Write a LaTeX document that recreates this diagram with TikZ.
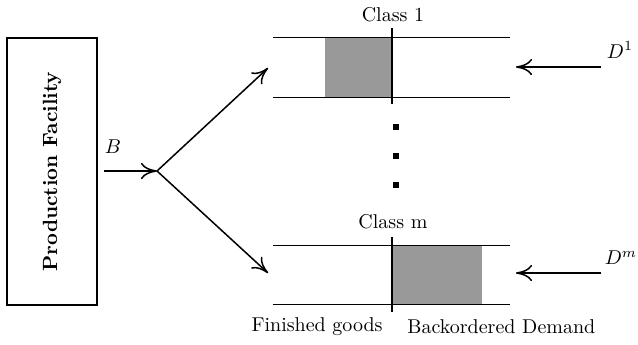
\documentclass[tikz,border=0pt]{standalone}
\usetikzlibrary{arrows.meta}
\begin{document}
\begin{tikzpicture}[x=0.5pt,y=-0.5pt,
  flow/.style={line width=0.75pt,-{To[length=8pt,width=8pt]}},
  rail/.style={line width=0.5pt},
  divider/.style={line width=1pt},
  stock/.style={fill=black!40,draw=none},
  dotmark/.style={fill=black,draw=none,minimum size=3pt,inner sep=0pt,rectangle},
  lbl/.style={inner sep=1pt,font=\fontsize{10}{12}\selectfont}]
\useasboundingbox (0,0) rectangle (638,344);

% production facility
\node[draw,line width=0.6pt,minimum width=45pt,minimum height=133.5pt,inner sep=0pt] (pf) at (52,171.5) {};
\node[rotate=90,font=\bfseries\fontsize{10.3}{12}\selectfont] (pft) at (pf.center) {Production Facility};

% split point
\coordinate (bin) at (104,171);
\coordinate (split) at (157,171);
\coordinate (t1) at (268,68);
\coordinate (tm) at (268,273);
\draw[flow] (bin) -- (split);
\node[lbl] (blab) at (113,147) {$B$};
\draw[flow] (split) -- (t1);
\draw[flow] (split) -- (tm);

% class 1 queue
\fill[stock] (325,37) rectangle (392,97);
\draw[rail] (273,37) -- (510,37);
\draw[rail] (273,97) -- (510,97);
\draw[divider] (392,28) -- (392,104);
\node[lbl] (c1) at (393,15) {Class 1};
\coordinate (d1s) at (601,67);
\coordinate (d1e) at (516,67);
\draw[flow] (d1s) -- (d1e);
\node[lbl] (d1) at (620,50) {$D^1$};

% dots between classes
\node[dotmark] (dA) at (396,127) {};
\node[dotmark] (dB) at (396,156) {};
\node[dotmark] (dC) at (396,185) {};

% class m queue
\fill[stock] (392,245) rectangle (482,304);
\draw[rail] (273,245) -- (510,245);
\draw[rail] (273,304) -- (510,304);
\draw[divider] (392,237) -- (392,312);
\node[lbl] (cm) at (393,222) {Class m};
\coordinate (dms) at (601,273);
\coordinate (dme) at (516,273);
\draw[flow] (dms) -- (dme);
\node[lbl] (dm) at (621,258) {$D^m$};

% captions
\node[lbl,anchor=east] (fg) at (385,327) {Finished goods};
\node[lbl,anchor=west] (bd) at (405,327) {Backordered Demand};
\end{tikzpicture}
\end{document}
